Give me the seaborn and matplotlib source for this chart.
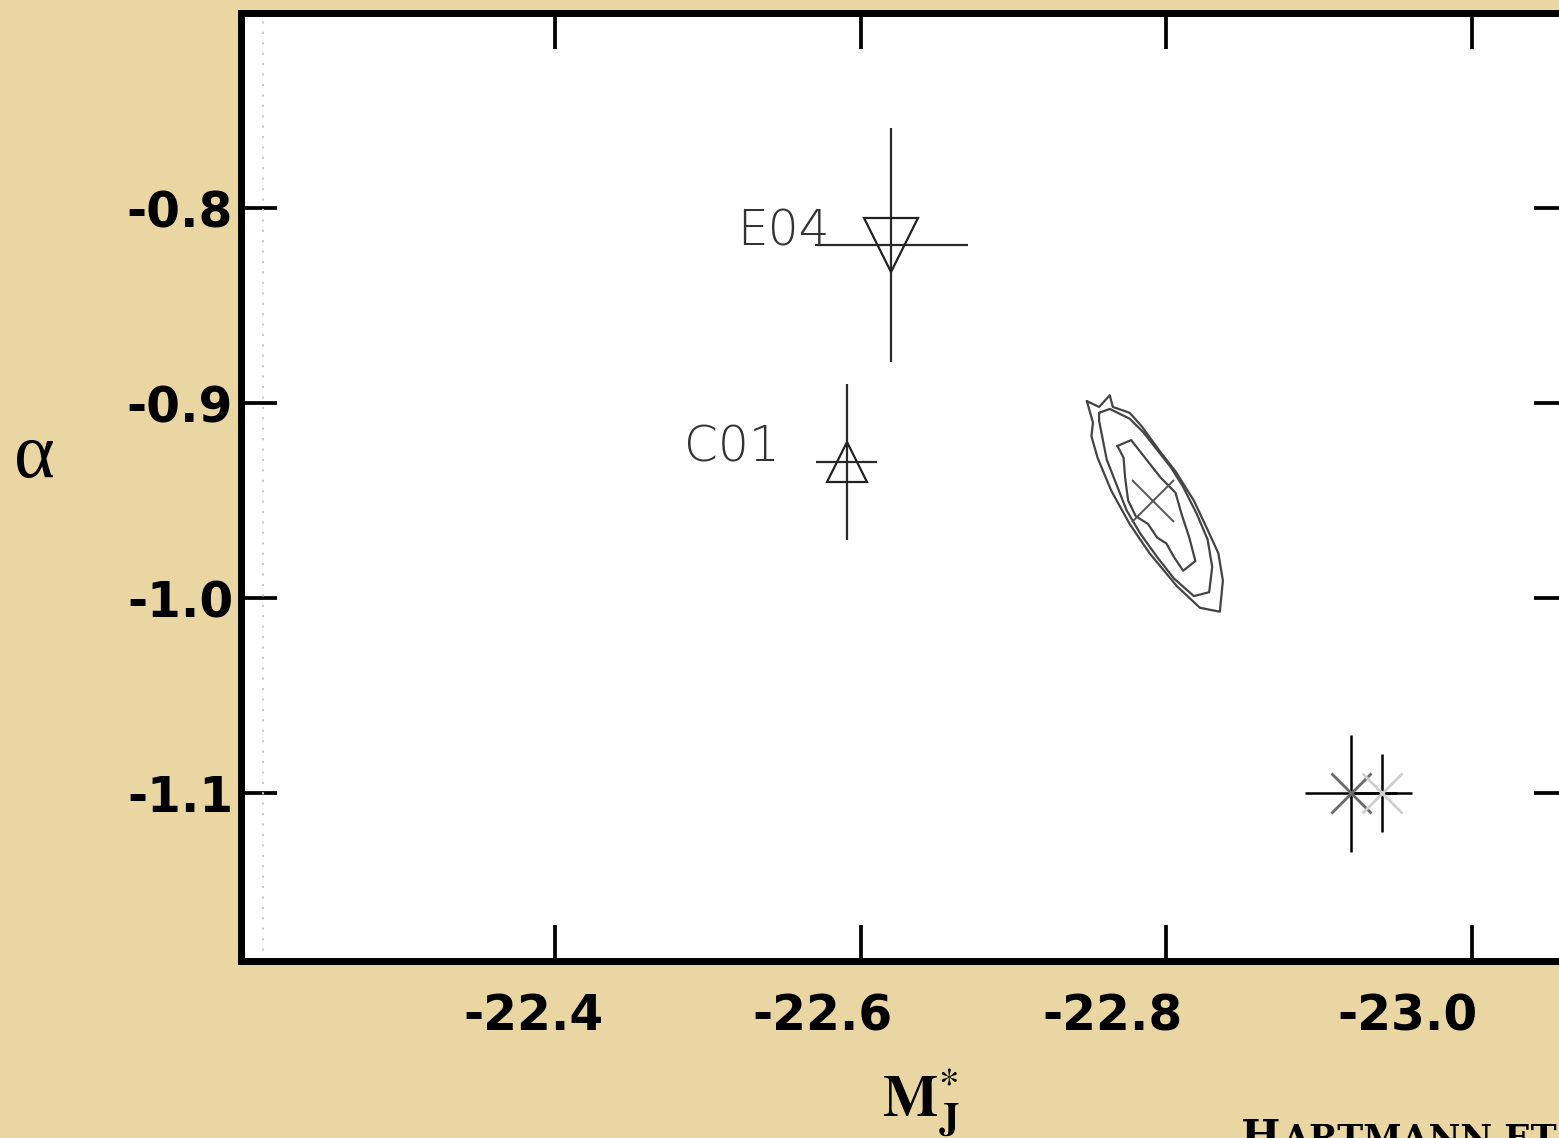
import numpy as np
import pandas as pd
import seaborn as sns
import matplotlib.pyplot as plt
from matplotlib.transforms import ScaledTranslation

# luminosity function fit parameters (M*_J, alpha)
lit_names = ['E04', 'C01']
lit_m = [-22.620, -22.591]
lit_alpha = [-0.819, -0.930]
lit_merr = [0.05, 0.02]
lit_aerr = [0.06, 0.04]
lit_label_x = [-22.580, -22.547]

# the two points in the lower right
pt_m = [-22.921, -22.941]
pt_alpha = [-1.100, -1.100]
pt_merr = [0.03, 0.02]
pt_aerr = [0.03, 0.02]

# best fit + likelihood contours
best_m, best_alpha = -22.791, -0.950
outer_m = [-22.748, -22.756, -22.763, -22.765, -22.776, -22.784, -22.796, -22.806, -22.818,
           -22.827, -22.834, -22.837, -22.835, -22.822, -22.807, -22.789, -22.776, -22.764,
           -22.755, -22.751, -22.752]
outer_a = [-0.899, -0.902, -0.896, -0.902, -0.905, -0.912, -0.925, -0.935, -0.950,
           -0.965, -0.977, -0.991, -1.007, -1.005, -0.994, -0.977, -0.962, -0.945,
           -0.928, -0.917, -0.910]
mid_m = [-22.756, -22.763, -22.776, -22.785, -22.794, -22.803, -22.811, -22.820, -22.827,
         -22.830, -22.828, -22.818, -22.805, -22.794, -22.783, -22.774, -22.767, -22.761,
         -22.758, -22.756]
mid_a = [-0.905, -0.903, -0.908, -0.915, -0.924, -0.933, -0.943, -0.957, -0.970,
         -0.984, -0.997, -0.999, -0.990, -0.979, -0.967, -0.955, -0.941, -0.929,
         -0.917, -0.909]
inner_m = [-22.768, -22.777, -22.786, -22.796, -22.806, -22.810, -22.815, -22.819, -22.811,
           -22.805, -22.800, -22.794, -22.788, -22.780, -22.775, -22.773, -22.772]
inner_a = [-0.922, -0.919, -0.928, -0.938, -0.946, -0.957, -0.969, -0.981, -0.986,
           -0.979, -0.972, -0.969, -0.962, -0.958, -0.950, -0.938, -0.928]

xticks = [-22.4, -22.6, -22.8, -23.0]
yticks = [-0.8, -0.9, -1.0, -1.1]
# the x labels in the original sit a bit left of their ticks (pixels)
xlabel_shift = [-21, -38, -54, -65]

sns.set_theme(style='ticks')
plt.rcParams['font.family'] = ['DejaVu Sans']
plt.rcParams['mathtext.fontset'] = 'stix'
plt.rcParams['text.color'] = 'black'

fig = plt.figure(figsize=(15.59, 11.38), dpi=100, facecolor='#EAD6A2')
ax = fig.add_axes([0.1549, 0.1551, 0.8521, 0.8339])
ax.set_facecolor('white')

# contours
for cm, ca in [(outer_m, outer_a), (mid_m, mid_a), (inner_m, inner_a)]:
    df = pd.DataFrame({'m': cm + cm[:1], 'a': ca + ca[:1]})
    sns.lineplot(data=df, x='m', y='a', sort=False, estimator=None, color='#444444',
                 lw=1.6, ax=ax)
ax.plot([best_m], [best_alpha], marker='x', ms=30, mew=1.4, color='#555555', ls='none')

# literature values
ax.errorbar(lit_m, lit_alpha, xerr=lit_merr, yerr=lit_aerr, fmt='none', ecolor='#2a2a2a',
            elinewidth=1.6, capsize=0)
ax.plot(lit_m[0], lit_alpha[0], marker='v', ms=39, mfc='none', mec='#222222', mew=1.6)
ax.plot(lit_m[1], lit_alpha[1], marker='^', ms=29.5, mfc='none', mec='#222222', mew=1.6)
for name, lx, ly in zip(lit_names, lit_label_x, lit_alpha):
    ax.text(lx, ly, name, ha='right', va='baseline', fontsize=35, fontweight='light',
            color='#333333')

# lower right points
ax.errorbar(pt_m, pt_alpha, xerr=pt_merr, yerr=pt_aerr, fmt='none', ecolor='black',
            elinewidth=1.8, capsize=0)
ax.plot(pt_m[0], pt_alpha[0], marker='x', ms=29, mew=2, color='#6a6a6a')
ax.plot(pt_m[1], pt_alpha[1], marker='x', ms=29, mew=2, color='#cfcfcf')

ax.axvline(-22.209, color='#c8c8c8', lw=1.5, ls=(0, (1, 4)))

ax.set_xlim(-22.195, -23.064)
ax.set_ylim(-1.1864, -0.6997)
ax.set_xticks(xticks)
ax.set_yticks(yticks)
ax.set_xticklabels([])
ax.set_yticklabels(['%.1f' % t for t in yticks])
ax.set_xlabel('')
ax.set_ylabel('')
ax.tick_params(direction='in', length=26, width=2.7, color='black', top=True, right=True,
               labelsize=35, labelcolor='black')
ax.tick_params(axis='y', pad=6)
for lab in ax.get_yticklabels():
    lab.set_fontweight('bold')
for t, dx in zip(xticks, xlabel_shift):
    tr = ax.get_xaxis_transform() + ScaledTranslation(dx / 100, -31 / 100, fig.dpi_scale_trans)
    ax.text(t, 0, '%.1f' % t, transform=tr, ha='center', va='top', fontsize=35,
            fontweight='bold', color='black', clip_on=False)
for sp in ax.spines.values():
    sp.set_linewidth(5)
    sp.set_color('black')
    sp.set_visible(True)

fig.text(14 / 1559, 1 - 477 / 1138, 'α', fontsize=56, va='baseline', color='black',
         family=['Liberation Serif', 'DejaVu Serif'])
fig.text(882 / 1559, 1 - 1117 / 1138, r'$\mathbf{M}^{*}_{\mathbf{J}}$', fontsize=42,
         va='baseline', color='black')
fig.text(1241 / 1559, 1 - 1150 / 1138, 'H', fontsize=30, fontweight='bold', va='baseline',
         color='black', family=['DejaVu Serif'])
fig.text(1282 / 1559, 1 - 1150 / 1138, 'ARTMANN ET AL.', fontsize=25, fontweight='bold',
         va='baseline', color='black', family=['DejaVu Serif'])

fig.savefig('out.png', dpi=100, facecolor=fig.get_facecolor())
